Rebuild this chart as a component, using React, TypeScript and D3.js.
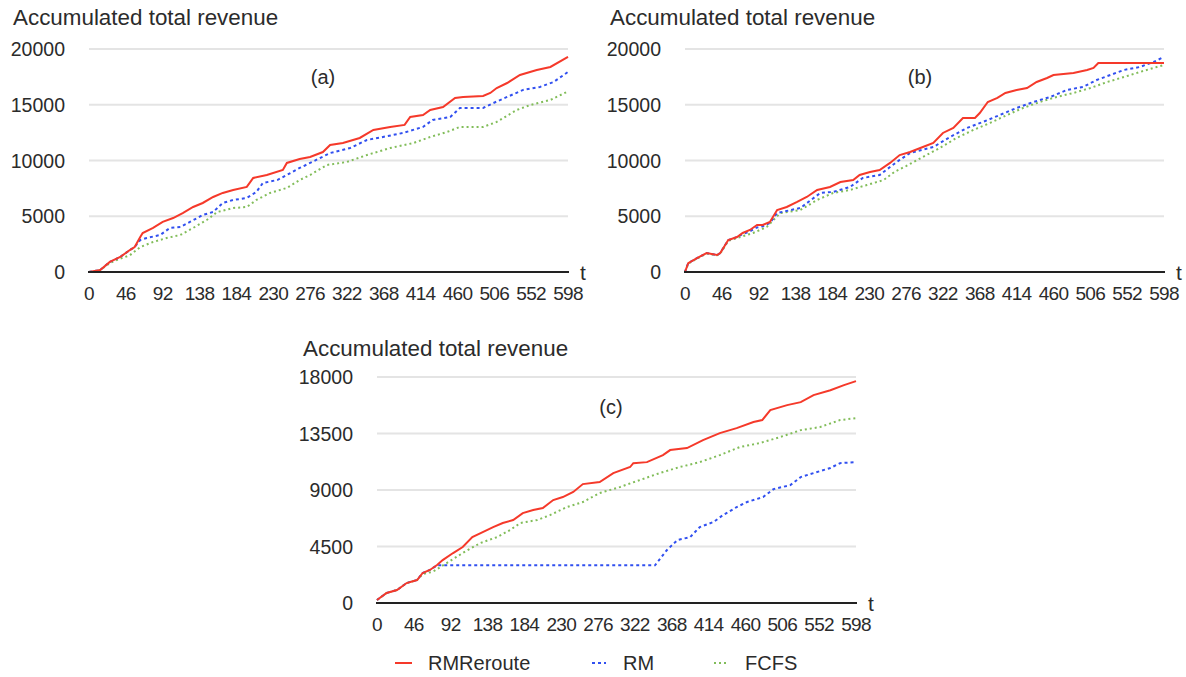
import React from "react";
import * as d3 from "d3";

type Pt = [number, number];

const xTicks = [0, 46, 92, 138, 184, 230, 276, 322, 368, 414, 460, 506, 552, 598];
const yTicksAB = [0, 5000, 10000, 15000, 20000];
const yTicksC = [0, 4500, 9000, 13500, 18000];
const seriesNames = ["RMReroute", "RM", "FCFS"];
const panelLabels = ["(a)", "(b)", "(c)"];
const yTitle = "Accumulated total revenue";

const aRed: Pt[] = [[0,0],[14,180],[26,900],[39,1350],[51,1970],[57,2240],[64,3140],[67,3500],[80,3950],[92,4490],[105,4840],[117,5290],[130,5830],[142,6190],[155,6730],[167,7090],[180,7360],[197,7630],[205,8430],[222,8700],[242,9150],[247,9780],[263,10130],[276,10320],[292,10760],[301,11390],[317,11570],[338,12020],[355,12740],[376,13010],[394,13190],[401,13900],[417,14080],[426,14530],[442,14800],[457,15600],[467,15700],[492,15790],[501,16060],[509,16500],[522,16950],[538,17670],[559,18120],[576,18390],[598,19290]];
const aBlue: Pt[] = [[0,0],[14,180],[26,900],[39,1350],[51,1970],[57,2240],[64,2870],[72,3050],[89,3320],[101,3950],[114,4040],[126,4490],[142,5110],[155,5380],[167,6190],[180,6460],[197,6640],[209,7180],[217,7980],[235,8250],[247,8700],[263,9330],[276,9780],[301,10670],[326,11120],[347,11840],[367,12110],[392,12470],[417,13010],[429,13630],[451,13900],[463,14710],[492,14710],[505,15160],[522,15700],[542,16330],[563,16600],[580,17040],[598,17940]];
const aGreen: Pt[] = [[0,0],[14,170],[26,800],[39,1200],[51,1500],[64,2240],[80,2690],[97,3050],[114,3320],[130,3950],[147,4660],[160,5380],[180,5740],[197,5830],[209,6460],[226,7090],[247,7540],[263,8250],[276,8700],[297,9600],[322,9870],[347,10490],[376,11120],[405,11570],[426,12110],[447,12560],[463,13010],[492,13010],[509,13460],[534,14530],[551,14980],[576,15430],[598,16200]];

const bRed: Pt[] = [[0,0],[4,800],[15,1250],[27,1700],[40,1520],[44,1700],[54,2870],[65,3140],[72,3500],[81,3770],[90,4220],[97,4220],[106,4490],[115,5560],[127,5830],[140,6280],[152,6730],[165,7360],[181,7630],[194,8070],[210,8250],[218,8700],[231,8970],[243,9150],[256,9780],[268,10490],[281,10760],[297,11210],[310,11570],[322,12470],[335,12920],[347,13810],[362,13810],[368,14260],[378,15250],[390,15610],[400,16060],[414,16330],[427,16500],[439,17040],[452,17400],[460,17670],[485,17850],[502,18120],[510,18300],[516,18750],[598,18750]];
const bBlue: Pt[] = [[0,0],[4,800],[15,1250],[27,1700],[40,1520],[44,1700],[54,2870],[65,3140],[72,3400],[81,3650],[90,4000],[97,4100],[106,4400],[115,5290],[144,5740],[169,7090],[185,7180],[206,7630],[222,8430],[243,8700],[256,9420],[268,10050],[281,10670],[310,11210],[331,12110],[352,12920],[372,13460],[393,14080],[414,14710],[435,15250],[456,15700],[477,16330],[497,16600],[514,17220],[531,17670],[548,18120],[568,18390],[585,18840],[598,19290]];
const bGreen: Pt[] = [[0,0],[4,750],[15,1200],[27,1650],[40,1500],[44,1650],[54,2800],[65,3050],[85,3500],[102,4040],[119,5290],[144,5560],[165,6460],[185,7090],[206,7360],[227,7800],[248,8250],[262,9000],[276,9500],[297,10320],[318,11120],[339,12020],[360,12740],[381,13370],[402,14080],[422,14710],[443,15250],[464,15700],[485,16060],[506,16500],[527,17040],[548,17490],[568,17940],[589,18390],[598,18570]];

const cRed: Pt[] = [[0,240],[12,800],[25,1030],[37,1590],[50,1830],[57,2390],[66,2630],[75,3020],[82,3420],[95,3980],[107,4460],[119,5250],[132,5650],[145,6050],[157,6370],[170,6610],[182,7160],[195,7400],[207,7560],[220,8200],[232,8440],[245,8840],[257,9470],[278,9630],[295,10350],[316,10830],[320,11140],[337,11220],[357,11780],[366,12180],[387,12340],[407,12970],[428,13530],[449,13930],[470,14410],[481,14570],[491,15360],[512,15760],[529,16000],[545,16560],[566,16950],[583,17350],[598,17670]];
const cBlue: Pt[] = [[0,240],[12,800],[25,1030],[37,1590],[50,1830],[57,2390],[66,2630],[75,3000],[347,3000],[362,4220],[375,5010],[391,5250],[403,6050],[420,6450],[432,7000],[449,7640],[462,8040],[482,8440],[495,9070],[516,9390],[529,10030],[545,10350],[566,10750],[578,11140],[598,11220]];
const cGreen: Pt[] = [[0,240],[12,800],[25,1030],[37,1590],[50,1830],[57,2300],[70,2500],[87,3180],[107,3980],[129,4780],[150,5250],[166,5810],[179,6370],[200,6610],[216,7000],[237,7640],[257,8040],[278,8760],[303,9230],[328,9790],[353,10350],[378,10830],[403,11220],[428,11780],[453,12420],[478,12740],[503,13210],[529,13770],[553,14010],[578,14570],[598,14730]];

const COLORS = ["#f5392a", "#3150f0", "#82bd5a"];
const DASH = [undefined, "3,3", "2,3"];
const FONT = "'Liberation Sans', Arial, Helvetica, sans-serif";
const TEXT = "#2b2b2b";

interface PanelProps {
  x0: number; x1: number; yB: number; yT: number;
  yTicks: number[]; yMax: number;
  series: Pt[][]; label: string; labelX: number; labelY: number;
  titleX: number; titleY: number;
}

function Panel(p: PanelProps) {
  const x = d3.scaleLinear().domain([0, 598]).range([p.x0, p.x1]);
  const y = d3.scaleLinear().domain([0, p.yMax]).range([p.yB, p.yT]);
  const line = d3.line<Pt>().x(d => x(d[0])).y(d => y(d[1]));
  return (
    <g>
      <text x={p.titleX} y={p.titleY} fontSize={22.4} fill={TEXT} fontFamily={FONT}>{yTitle}</text>
      {p.yTicks.map(t => (
        <g key={t}>
          {t !== 0 && <line x1={p.x0} x2={p.x1} y1={y(t)} y2={y(t)} stroke="#e4e4e4" strokeWidth={2} />}
          <text x={p.x0 - 24} y={y(t)} dy="0.36em" textAnchor="end" fontSize={19.5} fill={TEXT} fontFamily={FONT}>{t}</text>
        </g>
      ))}
      {xTicks.map(t => (
        <text key={t} x={x(t)} y={p.yB + 28} textAnchor="middle" fontSize={19} fill={TEXT} fontFamily={FONT} letterSpacing={-0.7}>{t}</text>
      ))}
      <text x={p.x1 + 15} y={p.yB} dy="0.36em" textAnchor="middle" fontSize={21} fill={TEXT} fontFamily={FONT}>t</text>
      <text x={p.labelX} y={p.labelY} dy="0.36em" textAnchor="middle" fontSize={20} fill={TEXT} fontFamily={FONT}>{p.label}</text>
      {p.series.map((s, i) => (
        <path key={i} d={line(s) || ""} fill="none" stroke={COLORS[i]} strokeWidth={2}
          strokeDasharray={DASH[i]} />
      )).reverse()}
      <line x1={p.x0 - 1} x2={p.x1 + 1} y1={p.yB} y2={p.yB} stroke="#222" strokeWidth={2} />
    </g>
  );
}

export default function App() {
  const legendItems = [
    { sx: 395, tx: 428 },
    { sx: 592, tx: 623 },
    { sx: 714, tx: 745 },
  ];
  return (
    <svg width={1186} height={677} style={{ position: "absolute", left: 0, top: 0, background: "#fff" }}>
      <rect width={1186} height={677} fill="#fff" />
      <Panel x0={89} x1={568} yB={272} yT={49} yTicks={yTicksAB} yMax={20000}
        series={[aRed, aBlue, aGreen]} label={panelLabels[0]} labelX={323} labelY={77}
        titleX={13} titleY={25} />
      <Panel x0={685} x1={1164} yB={272} yT={49} yTicks={yTicksAB} yMax={20000}
        series={[bRed, bBlue, bGreen]} label={panelLabels[1]} labelX={920} labelY={77}
        titleX={610} titleY={25} />
      <Panel x0={377} x1={856} yB={603} yT={377} yTicks={yTicksC} yMax={18000}
        series={[cRed, cBlue, cGreen]} label={panelLabels[2]} labelX={611} labelY={407}
        titleX={303} titleY={356} />
      {seriesNames.map((n, i) => (
        <g key={n}>
          <line x1={legendItems[i].sx} x2={legendItems[i].sx + (i === 0 ? 17 : 14)} y1={663} y2={663}
            stroke={COLORS[i]} strokeWidth={2} strokeDasharray={DASH[i]} />
          <text x={legendItems[i].tx} y={663} dy="0.36em" fontSize={20} fill={TEXT} fontFamily={FONT}>{n}</text>
        </g>
      ))}
    </svg>
  );
}
